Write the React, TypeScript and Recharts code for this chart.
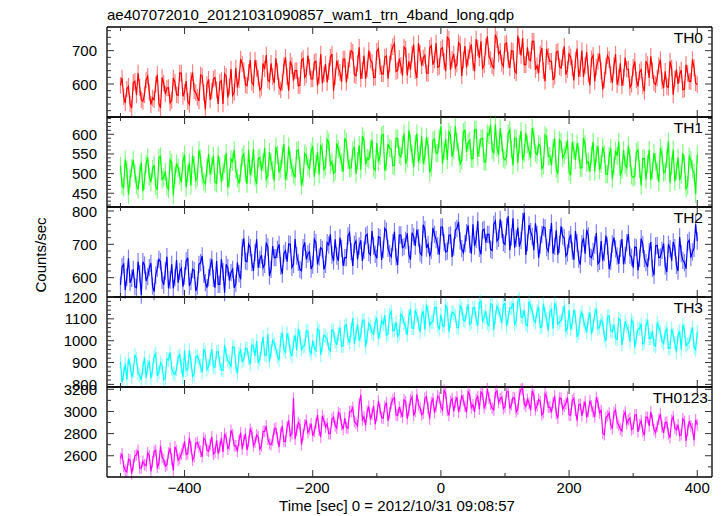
import React from 'react';
import { LineChart, Line, XAxis, YAxis, ErrorBar } from 'recharts';

const FONT = '"Liberation Sans", Arial, Helvetica, sans-serif';
const TITLE = 'ae407072010_20121031090857_wam1_trn_4band_long.qdp';
const X_LABEL = 'Time [sec] 0 = 2012/10/31 09:08:57';
const Y_LABEL = 'Counts/sec';

// bin times: start and step of the light curve (sec)
const T_START = -500;
const T_STEP = 2.5;

const TH0 = [
  596, 618, 561, 543, 585, 593, 540, 528, 604, 608, 567, 633, 590, 553, 548, 568, 612, 623, 575, 538,
  558, 553, 598, 628, 542, 528, 620, 603, 570, 588, 589, 543, 551, 618, 606, 568, 566, 633, 632, 563,
  575, 609, 548, 539, 610, 634, 580, 574, 560, 549, 627, 624, 574, 524, 598, 614, 552, 579, 615, 619,
  583, 540, 605, 610, 540, 630, 622, 560, 591, 645, 566, 575, 648, 590, 612, 675, 660, 640, 598, 595,
  635, 672, 605, 597, 672, 647, 618, 582, 590, 662, 645, 687, 612, 607, 662, 622, 603, 677, 638, 592,
  582, 605, 655, 680, 622, 580, 668, 655, 610, 640, 640, 595, 596, 670, 676, 620, 628, 685, 650, 615,
  615, 665, 668, 595, 625, 690, 602, 630, 660, 605, 638, 680, 690, 580, 622, 670, 648, 635, 606, 675,
  675, 605, 640, 675, 700, 695, 628, 625, 662, 710, 615, 640, 685, 615, 645, 700, 672, 665, 620, 620,
  698, 706, 652, 631, 630, 681, 684, 616, 660, 696, 712, 721, 638, 641, 676, 656, 625, 711, 705, 626,
  668, 643, 690, 718, 640, 618, 722, 693, 655, 678, 686, 633, 632, 708, 715, 658, 672, 723, 650, 653,
  705, 709, 668, 639, 740, 734, 642, 674, 690, 649, 660, 724, 718, 624, 672, 714, 650, 679, 700, 719,
  665, 638, 735, 708, 678, 728, 645, 658, 712, 743, 683, 673, 655, 648, 748, 733, 690, 698, 662, 653,
  720, 723, 672, 648, 700, 698, 640, 633, 745, 713, 686, 738, 658, 658, 710, 673, 670, 728, 728, 643,
  655, 633, 690, 708, 640, 608, 705, 683, 668, 668, 612, 623, 695, 698, 652, 648, 680, 713, 628, 643,
  690, 681, 648, 611, 672, 706, 622, 646, 700, 621, 655, 696, 630, 596, 676, 686, 608, 651, 668, 691,
  640, 584, 612, 654, 685, 674, 628, 604, 655, 689, 598, 619, 662, 594, 620, 679, 645, 644, 590, 599,
  650, 668, 612, 593, 636, 643, 595, 578, 668, 658, 618, 683, 640, 603, 598, 618, 655, 673, 610, 588,
  638, 593, 590, 668, 648, 568, 615, 643, 600, 628, 642, 583, 585, 658, 632, 608, 608, 673, 650, 603,
  598,
];

const TH1 = [
  520, 469, 465, 536, 510, 446, 488, 514, 535, 501, 470, 460, 498, 528, 455, 482, 525, 541, 492, 478,
  512, 521, 468, 459, 540, 544, 485, 490, 505, 467, 460, 535, 528, 445, 495, 526, 515, 494, 478, 531,
  548, 465, 500, 528, 470, 546, 522, 483, 490, 560, 538, 496, 480, 474, 515, 550, 498, 519, 545, 478,
  475, 546, 520, 478, 505, 524, 552, 465, 488, 537, 530, 560, 510, 488, 475, 501, 542, 550, 500, 474,
  560, 496, 515, 563, 490, 473, 538, 541, 508, 528, 565, 487, 495, 555, 530, 509, 482, 568, 548, 505,
  512, 546, 575, 484, 505, 569, 535, 515, 498, 492, 558, 560, 520, 470, 490, 551, 545, 519, 512, 556,
  570, 492, 525, 555, 498, 573, 555, 510, 518, 587, 580, 523, 530, 501, 505, 577, 562, 546, 528, 505,
  590, 581, 535, 513, 515, 559, 568, 500, 532, 572, 510, 595, 585, 523, 540, 536, 562, 585, 515, 509,
  578, 530, 545, 597, 600, 507, 530, 575, 565, 562, 520, 521, 590, 589, 548, 543, 572, 602, 525, 539,
  610, 579, 550, 517, 575, 602, 530, 548, 595, 525, 545, 593, 570, 503, 515, 584, 588, 552, 552, 589,
  620, 525, 558, 588, 535, 606, 598, 543, 560, 620, 580, 556, 525, 534, 605, 610, 555, 579, 585, 538,
  538, 611, 612, 543, 565, 589, 590, 530, 530, 602, 598, 625, 560, 553, 625, 566, 548, 615, 580, 539,
  535, 544, 602, 611, 562, 521, 590, 589, 528, 576, 608, 535, 552, 603, 575, 557, 540, 616, 595, 553,
  548, 575, 570, 513, 520, 598, 592, 544, 545, 521, 565, 589, 512, 499, 585, 580, 540, 548, 560, 585,
  505, 496, 580, 559, 535, 577, 555, 514, 515, 591, 575, 527, 530, 505, 548, 581, 505, 550, 570, 509,
  525, 567, 550, 499, 498, 545, 565, 486, 520, 558, 545, 581, 495, 509, 560, 522, 515, 571, 540, 495,
  490, 493, 555, 560, 512, 470, 538, 538, 485, 525, 560, 484, 508, 552, 530, 506, 478, 565, 548, 502,
  505, 538, 582, 476, 520, 561, 480, 507, 540, 484, 498, 552, 525, 462, 470, 543, 535, 511, 502, 448,
  548,
];

const TH2 = [
  578, 633, 640, 563, 602, 658, 585, 598, 625, 573, 570, 648, 612, 548, 648, 638, 590, 603, 630, 643,
  575, 558, 608, 628, 655, 648, 592, 578, 620, 663, 568, 593, 640, 568, 600, 653, 585, 618, 628, 573,
  605, 650, 660, 575, 588, 625, 622, 560, 575, 640, 645, 665, 610, 585, 570, 600, 632, 655, 598, 570,
  650, 580, 580, 655, 618, 555, 640, 630, 592, 615, 625, 570, 582, 645, 612, 595, 690, 718, 650, 648,
  700, 690, 645, 620, 675, 715, 630, 655, 668, 630, 640, 705, 692, 605, 625, 695, 660, 660, 685, 700,
  635, 611, 672, 681, 648, 701, 700, 631, 640, 716, 665, 646, 625, 621, 690, 706, 655, 671, 678, 626,
  638, 715, 705, 640, 662, 690, 685, 625, 640, 705, 698, 730, 668, 650, 715, 665, 650, 720, 688, 635,
  660, 660, 725, 735, 678, 635, 700, 710, 655, 695, 712, 650, 682, 725, 730, 675, 668, 740, 695, 670,
  658, 723, 720, 653, 685, 748, 740, 688, 672, 663, 705, 738, 662, 638, 728, 728, 690, 693, 712, 733,
  670, 654, 735, 724, 695, 744, 720, 674, 668, 759, 745, 689, 700, 664, 682, 749, 730, 714, 695, 669,
  752, 752, 705, 677, 680, 727, 728, 662, 692, 742, 748, 767, 710, 687, 675, 702, 735, 757, 700, 672,
  760, 695, 715, 770, 688, 670, 742, 745, 705, 730, 730, 685, 682, 760, 770, 710, 718, 775, 745, 705,
  700, 753, 785, 683, 722, 778, 690, 718, 750, 693, 712, 768, 795, 668, 705, 758, 738, 723, 682, 763,
  730, 659, 698, 729, 752, 749, 690, 679, 720, 764, 672, 694, 742, 669, 700, 754, 725, 719, 665, 674,
  715, 729, 680, 654, 740, 704, 655, 639, 702, 719, 672, 744, 725, 664, 660, 679, 698, 734, 642, 649,
  710, 651, 675, 726, 695, 626, 648, 701, 720, 686, 665, 641, 688, 716, 640, 666, 705, 731, 668, 661,
  630, 692, 690, 622, 658, 717, 700, 657, 645, 632, 678, 707, 628, 607, 695, 697, 660, 662, 682, 702,
  635, 617, 700, 687, 650, 707, 690, 637, 620, 722, 672, 652, 645, 627, 705, 712, 660, 677, 688, 760,
  710,
];

const TH3 = [
  905, 809, 850, 893, 822, 917, 890, 833, 860, 935, 918, 851, 842, 821, 875, 923, 830, 881, 905, 827,
  868, 929, 940, 839, 855, 899, 885, 821, 828, 917, 912, 947, 872, 851, 845, 869, 925, 935, 880, 833,
  955, 866, 870, 956, 905, 836, 848, 926, 930, 908, 885, 854, 962, 944, 868, 884, 915, 962, 880, 878,
  948, 951, 895, 867, 865, 981, 935, 909, 900, 879, 972, 969, 888, 849, 940, 957, 905, 915, 965, 963,
  920, 892, 980, 976, 930, 1000, 898, 916, 968, 1018, 935, 934, 1030, 904, 950, 1006, 985, 964, 930, 910,
  1005, 1037, 960, 947, 1035, 1007, 948, 929, 990, 1025, 955, 1055, 1020, 959, 975, 977, 1045, 1043, 958, 941,
  1000, 965, 955, 1055, 1045, 935, 980, 1025, 1020, 1007, 962, 953, 1050, 1043, 995, 983, 1030, 1061, 975, 977,
  1065, 1073, 1010, 989, 1050, 1103, 985, 1031, 1075, 1001, 1025, 1091, 1095, 971, 1020, 1079, 1065, 1037, 1030, 1085,
  1105, 1008, 1040, 1092, 1075, 1116, 1025, 1032, 1120, 1134, 1045, 1050, 1085, 1020, 1033, 1122, 1110, 1080, 1060, 1026,
  1110, 1147, 1058, 1057, 1140, 1117, 1080, 1039, 1115, 1135, 1050, 1165, 1130, 1069, 1085, 1087, 1150, 1153, 1070, 1051,
  1120, 1071, 1065, 1161, 1145, 1041, 1090, 1131, 1125, 1113, 1060, 1059, 1160, 1149, 1095, 1089, 1130, 1167, 1075, 1083,
  1150, 1151, 1100, 1067, 1175, 1181, 1085, 1109, 1135, 1079, 1070, 1169, 1165, 1049, 1110, 1157, 1140, 1115, 1080, 1163,
  1170, 1065, 1105, 1149, 1150, 1173, 1075, 1089, 1180, 1191, 1110, 1107, 1140, 1077, 1068, 1179, 1155, 1137, 1095, 1083,
  1135, 1154, 1060, 1064, 1170, 1124, 1100, 1046, 1130, 1142, 1055, 1172, 1150, 1076, 1085, 1094, 1125, 1160, 1045, 1058,
  1140, 1051, 1080, 1141, 1110, 1021, 1035, 1111, 1130, 1093, 1065, 1039, 1100, 1129, 1030, 1069, 1120, 1147, 1055, 1063,
  1095, 1083, 1020, 999, 1110, 1113, 1045, 1041, 1075, 1011, 1005, 1101, 1090, 981, 1030, 1089, 1065, 1047, 995, 1095,
  1080, 969, 1015, 1053, 1055, 1077, 985, 993, 1070, 1095, 1010, 1011, 1045, 981, 975, 1083, 1060, 1041, 998, 987,
  1040, 1055, 965, 965, 1055, 1025, 990, 947, 1025, 1043, 960, 1073, 1045, 977, 985, 995, 1030, 1061, 970, 959,
  1040,
];

const TH0123 = [
  2575, 2618, 2505, 2468, 2455, 2568, 2560, 2438, 2520, 2598, 2610, 2648, 2490, 2488, 2550, 2518, 2510, 2628, 2600, 2458,
  2545, 2637, 2650, 2497, 2530, 2687, 2585, 2567, 2505, 2517, 2625, 2667, 2570, 2467, 2680, 2647, 2560, 2577, 2615, 2657,
  2730, 2611, 2620, 2761, 2680, 2561, 2590, 2711, 2720, 2681, 2640, 2591, 2760, 2741, 2650, 2641, 2700, 2771, 2615, 2631,
  2740, 2620, 2680, 2760, 2635, 2800, 2760, 2660, 2700, 2830, 2790, 2690, 2690, 2640, 2740, 2810, 2660, 2740, 2800, 2650,
  2730, 2839, 2810, 2689, 2720, 2789, 2770, 2659, 2690, 2819, 2820, 2869, 2750, 2709, 2700, 2739, 2840, 2849, 2760, 2679,
  2800, 2870, 2730, 2730, 2860, 2920, 2780, 2800, 3120, 2750, 2830, 2900, 2880, 2700, 2790, 2880, 2920, 2810, 2840, 2890,
  2780, 2819, 2890, 2969, 2830, 2769, 2960, 2919, 2860, 2889, 2800, 2799, 2930, 2949, 2870, 2849, 2990, 2979, 2880, 2839,
  2940, 2855, 2850, 2995, 3000, 3035, 2910, 2895, 2870, 3065, 3150, 2925, 2950, 2875, 3000, 3045, 2930, 2975, 3050, 2885,
  2960, 3095, 3020, 2945, 2940, 3045, 3080, 2915, 2990, 3075, 3110, 3125, 2970, 2965, 3040, 2995, 2950, 3105, 3090, 2935,
  3010, 3104, 3130, 2964, 3000, 3154, 3060, 3034, 2970, 2984, 3120, 3134, 3030, 2934, 3080, 3114, 2990, 3044, 3140, 3124,
  3040, 3015, 3190, 3165, 3010, 2965, 3090, 3115, 3000, 3085, 3130, 2995, 3050, 3145, 3100, 3045, 2990, 3175, 3150, 3035,
  3060, 2995, 3110, 3135, 3020, 3175, 3160, 3035, 3070, 3205, 3120, 3065, 3030, 3015, 3170, 3185, 3080, 3115, 3130, 3025,
  3040, 3176, 3180, 3026, 3060, 3126, 3120, 2996, 3020, 3156, 3200, 3206, 3070, 3046, 3110, 3076, 3010, 3186, 3150, 3016,
  3050, 3109, 3090, 2969, 2990, 3159, 3130, 3039, 3040, 2989, 3080, 3139, 2980, 2939, 3120, 3119, 3020, 3049, 3070, 3129,
  2970, 2967, 3100, 3117, 3010, 2917, 3060, 3067, 2960, 3037, 3090, 2947, 3000, 3097, 3050, 2997, 2950, 3127, 3080, 2987,
  3010, 2805, 2790, 2945, 2960, 2985, 2880, 2845, 2990, 3015, 2900, 2875, 2840, 2825, 2960, 2995, 2890, 2925, 2940, 2835,
  2850, 2966, 2970, 2816, 2880, 2916, 2820, 2786, 2950, 2946, 2870, 2996, 2920, 2836, 2810, 2866, 2930, 2976, 2860, 2806,
  2900, 2903, 2800, 2763, 2920, 2953, 2850, 2833, 2880, 2783, 2790, 2933, 2910, 2733, 2830, 2913, 2870, 2843, 2740, 2923,
  2880,
];

// 1-sigma error of each band (counts/sec)
const ERR_TH0 = 25;
const ERR_TH1 = 23;
const ERR_TH2 = 26;
const ERR_TH3 = 32;
const ERR_TH0123 = 53;

const X_DOMAIN: [number, number] = [-521, 423];
const X_MAJOR = [-400, -200, 0, 200, 400];
const X_MINOR = [-500, -300, -100, 100, 300];

const Y_MAJOR_TH0 = [600, 700];
const Y_MINOR_TH0 = [520, 540, 560, 580, 620, 640, 660, 680, 720, 740, 760];
const Y_MAJOR_TH1 = [450, 500, 550, 600];
const Y_MINOR_TH1 = [420, 430, 440, 460, 470, 480, 490, 510, 520, 530, 540, 560, 570, 580, 590, 610, 620, 630, 640];
const Y_MAJOR_TH2 = [600, 700, 800];
const Y_MINOR_TH2 = [560, 580, 620, 640, 660, 680, 720, 740, 760, 780];
const Y_MAJOR_TH3 = [800, 900, 1000, 1100, 1200];
const Y_MINOR_TH3 = [820, 840, 860, 880, 920, 940, 960, 980, 1020, 1040, 1060, 1080, 1120, 1140, 1160, 1180];
const Y_MAJOR_TH0123 = [2600, 2800, 3000, 3200];
const Y_MINOR_TH0123 = [2500, 2700, 2900, 3100];

const PANELS = [
  { name: 'TH0', values: TH0, err: ERR_TH0, color: '#ff0000', errColor: '#ff7f7f', domain: [501, 771], majors: Y_MAJOR_TH0, minors: Y_MINOR_TH0, labelRight: 703 },
  { name: 'TH1', values: TH1, err: ERR_TH1, color: '#00ff00', errColor: '#7fff7f', domain: [415, 644], majors: Y_MAJOR_TH1, minors: Y_MINOR_TH1, labelRight: 703 },
  { name: 'TH2', values: TH2, err: ERR_TH2, color: '#0000ff', errColor: '#7f7fff', domain: [542, 812], majors: Y_MAJOR_TH2, minors: Y_MINOR_TH2, labelRight: 703 },
  { name: 'TH3', values: TH3, err: ERR_TH3, color: '#00ffff', errColor: '#8fffff', domain: [788, 1200], majors: Y_MAJOR_TH3, minors: Y_MINOR_TH3, labelRight: 703 },
  { name: 'TH0123', values: TH0123, err: ERR_TH0123, color: '#ff00ff', errColor: '#ff7fff', domain: [2408, 3221], majors: Y_MAJOR_TH0123, minors: Y_MINOR_TH0123, labelRight: 708 },
];

const PLOT_TOP = 27;
const PANEL_H = 90;
const LEFT = 107;
const RIGHT_W = 10;
const W = 722;
const TICK_COLOR = '#333';
const AXIS = { stroke: '#000', strokeWidth: 1.3 };

const fmt = (v: number) => (v < 0 ? '\u2212' + Math.abs(v) : String(v));

const yTick = (side: 'left' | 'right', majors: number[], labels: boolean) => (props: any) => {
  const { x, y, payload } = props;
  const v = payload.value;
  const major = majors.includes(v);
  const len = major ? 7 : 4;
  const dir = side === 'left' ? 1 : -1;
  return (
    <g>
      <line x1={x} y1={y} x2={x + dir * len} y2={y} stroke={TICK_COLOR} strokeWidth={1} />
      {labels && major ? (
        <text x={x - 10} y={y} textAnchor="end" dominantBaseline="central" fontSize={15} fontFamily={FONT} fill="#000">
          {fmt(v)}
        </text>
      ) : null}
    </g>
  );
};

const xTick = (side: 'top' | 'bottom', labels: boolean) => (props: any) => {
  const { x, y, payload } = props;
  const v = payload.value;
  const major = X_MAJOR.includes(v);
  const len = major ? 7 : 4;
  const dir = side === 'top' ? 1 : -1;
  return (
    <g>
      <line x1={x} y1={y} x2={x} y2={y + dir * len} stroke={TICK_COLOR} strokeWidth={1} />
      {labels && major ? (
        <text x={x} y={y + 16} textAnchor="middle" fontSize={15} fontFamily={FONT} fill="#000">
          {fmt(v)}
        </text>
      ) : null}
    </g>
  );
};

function Panel({ p, index, last }: { p: any; index: number; last: boolean }) {
  const data = p.values.map((v: number, i: number) => ({ t: T_START + i * T_STEP, v, e: p.err }));
  const top = PLOT_TOP + index * PANEL_H;
  const bottomH = last ? 40 : 1;
  const height = 1 + PANEL_H + bottomH;
  const [lo, hi] = p.domain;
  const yTicks = [...p.majors, ...p.minors].filter((v: number) => v >= lo && v <= hi).sort((a: number, b: number) => a - b);
  const xTicks = [...X_MAJOR, ...X_MINOR].sort((a, b) => a - b);
  return (
    <div style={{ position: 'absolute', left: 0, top: top - 1 }}>
      <LineChart width={W} height={height} data={data} margin={{ top: 0, right: 0, bottom: 0, left: 0 }}>
        <XAxis
          xAxisId="b"
          dataKey="t"
          type="number"
          domain={X_DOMAIN}
          allowDataOverflow
          ticks={xTicks}
          interval={0}
          tickSize={0}
          tickMargin={0}
          height={bottomH}
          axisLine={AXIS}
          tickLine={false}
          tick={xTick('bottom', last)}
        />
        <XAxis
          xAxisId="t"
          orientation="top"
          dataKey="t"
          type="number"
          domain={X_DOMAIN}
          allowDataOverflow
          ticks={xTicks}
          interval={0}
          tickSize={0}
          tickMargin={0}
          height={1}
          axisLine={AXIS}
          tickLine={false}
          tick={xTick('top', false)}
        />
        <YAxis
          yAxisId="l"
          type="number"
          domain={p.domain}
          allowDataOverflow
          ticks={yTicks}
          interval={0}
          tickSize={0}
          tickMargin={0}
          width={LEFT}
          axisLine={AXIS}
          tickLine={false}
          tick={yTick('left', p.majors, true)}
        />
        <YAxis
          yAxisId="r"
          orientation="right"
          type="number"
          domain={p.domain}
          allowDataOverflow
          ticks={yTicks}
          interval={0}
          tickSize={0}
          tickMargin={0}
          width={RIGHT_W}
          axisLine={AXIS}
          tickLine={false}
          tick={yTick('right', p.majors, false)}
        />
        <Line
          xAxisId="b"
          yAxisId="l"
          dataKey="v"
          type="linear"
          stroke="none"
          dot={false}
          isAnimationActive={false}
        >
          <ErrorBar dataKey="e" direction="y" width={0} stroke={p.errColor} strokeWidth={1.2} isAnimationActive={false} />
        </Line>
        <Line
          xAxisId="b"
          yAxisId="l"
          dataKey="v"
          type="linear"
          stroke={p.color}
          strokeWidth={1.2}
          dot={false}
          isAnimationActive={false}
        />
      </LineChart>
      <svg
        width={W}
        height={40}
        style={{ position: 'absolute', left: 0, top: 1, pointerEvents: 'none' }}
      >
        <text x={p.labelRight} y={16} textAnchor="end" fontSize={15.5} fontFamily={FONT} fill="#000">
          {p.name}
        </text>
      </svg>
    </div>
  );
}

export default function App() {
  return (
    <div style={{ position: 'absolute', left: 0, top: 0, width: W, height: 516, background: '#fff', overflow: 'hidden' }}>
      <style>{'.recharts-surface{overflow:visible}'}</style>
      {PANELS.map((p, i) => (
        <Panel key={p.name} p={p} index={i} last={i === PANELS.length - 1} />
      ))}
      <svg width={W} height={516} style={{ position: 'absolute', left: 0, top: 0, pointerEvents: 'none' }}>
        <text x={LEFT} y={20} fontSize={15} fontFamily={FONT} fill="#000">
          {TITLE}
        </text>
        <text
          x={46}
          y={255}
          transform="rotate(-90 46 255)"
          textAnchor="middle"
          fontSize={15}
          fontFamily={FONT}
          fill="#000"
        >
          {Y_LABEL}
        </text>
        <text x={397} y={511} textAnchor="middle" fontSize={15} fontFamily={FONT} fill="#000">
          {X_LABEL}
        </text>
      </svg>
    </div>
  );
}
